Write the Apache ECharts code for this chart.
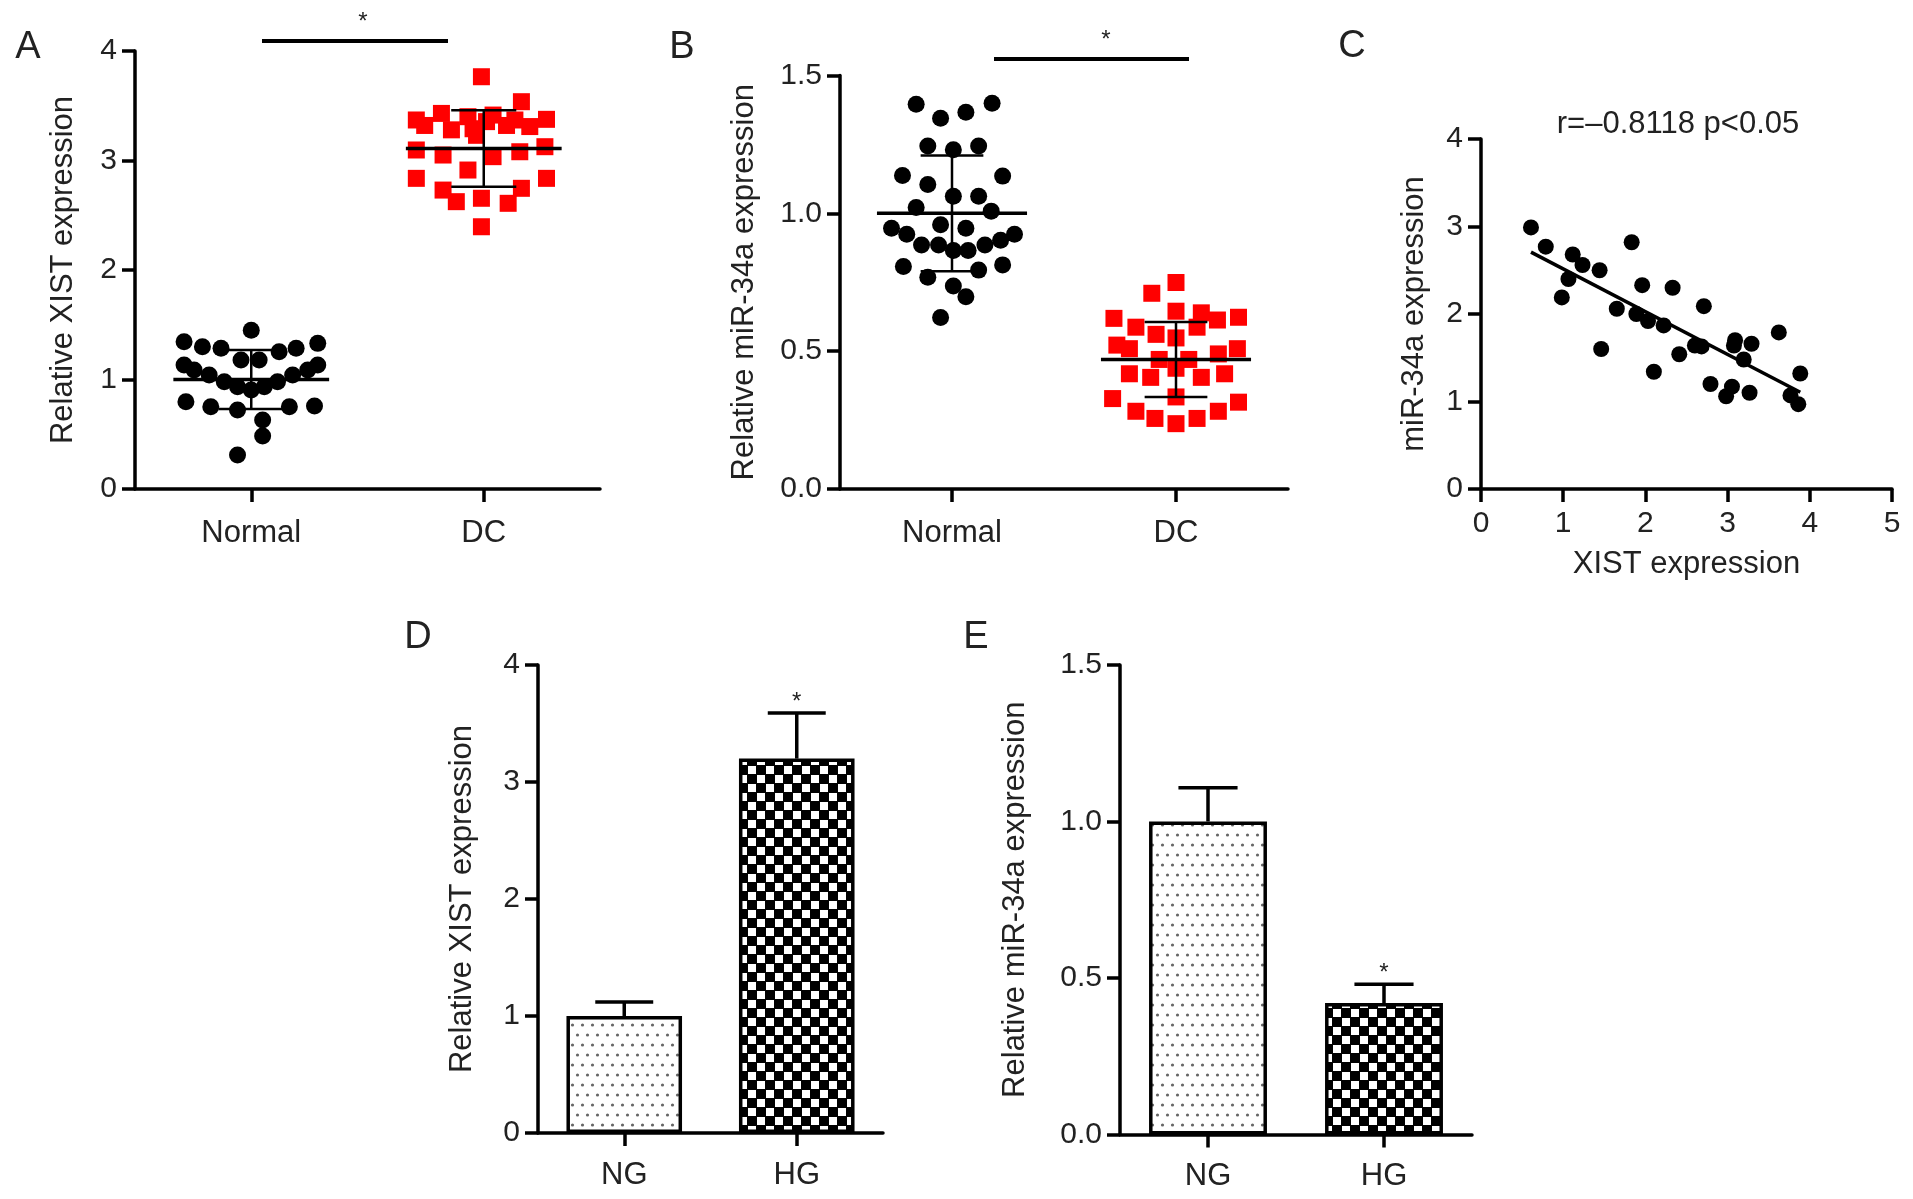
<!DOCTYPE html>
<html lang="en">
  <head>
    <meta charset="UTF-8" />
    <script src="https://cdn.jsdelivr.net/npm/echarts@6.0.0/dist/echarts.min.js"></script>
    <title>XIST / miR-34a</title>
    <style>
      html, body { margin: 0; padding: 0; background: #fff; }
    </style>
  </head>
  <body>
    <div id="container" style="width: 1913px; height: 1199px;"></div>

    <script>
      // ---- data ----
      const groupsAB = ["Normal", "DC"];
      const groupsDE = ["NG", "HG"];

      // panel A: relative XIST expression (dot plot)
      const xistNormal = [1.45, 1.345, 1.3, 1.285, 1.254, 1.285, 1.33, 1.178, 1.178, 1.132, 1.132, 1.087, 1.041, 0.98, 0.934, 0.904, 0.934, 0.98, 1.041, 1.087, 0.797, 0.752, 0.721, 0.752, 0.758, 0.63, 0.484, 0.31];
      const xistNormalJitter = [0, -0.289, -0.21, -0.13, 0.12, 0.193, 0.286, -0.044, 0.034, -0.289, 0.286, -0.246, -0.181, -0.116, -0.059, 0, 0.056, 0.113, 0.178, 0.243, -0.281, -0.174, -0.059, 0.164, 0.272, 0.049, 0.049, -0.059];
      const xistDC = [3.765, 3.537, 3.37, 3.43, 3.4, 3.415, 3.376, 3.32, 3.28, 3.29, 3.32, 3.31, 3.23, 3.096, 3.05, 3.035, 3.08, 3.126, 2.913, 2.837, 2.837, 2.73, 2.746, 2.624, 2.655, 2.609, 2.395, 3.355, 3.37];
      const xistDCJitter = [-0.01, 0.162, -0.29, -0.182, -0.068, 0.04, 0.27, -0.254, -0.139, -0.046, 0.098, 0.198, -0.031, -0.29, -0.175, 0.04, 0.155, 0.263, -0.068, -0.29, 0.27, -0.175, 0.162, -0.118, -0.01, 0.105, -0.01, 0.012, 0.134];
      const xistMean = [1.0, 3.11];
      const xistSd = [0.27, 0.35];

      // panel B: relative miR-34a expression (dot plot)
      const mirNormal = [1.396, 1.399, 1.345, 1.367, 1.244, 1.231, 1.244, 1.137, 1.135, 1.105, 1.062, 1.062, 1.021, 1.008, 0.946, 0.959, 0.946, 0.924, 0.924, 0.885, 0.885, 0.865, 0.865, 0.885, 0.902, 0.807, 0.813, 0.768, 0.794, 0.736, 0.697, 0.622];
      const mirNormalJitter = [-0.16, 0.179, -0.051, 0.062, -0.108, 0.006, 0.119, -0.221, 0.226, -0.108, 0.006, 0.119, -0.16, 0.175, -0.27, -0.051, 0.062, -0.202, 0.279, -0.136, -0.06, 0.006, 0.072, 0.147, 0.217, -0.217, 0.226, -0.108, 0.119, 0.006, 0.062, -0.051];
      const mirDC = [0.749, 0.71, 0.619, 0.623, 0.645, 0.639, 0.613, 0.587, 0.561, 0.548, 0.587, 0.522, 0.509, 0.509, 0.49, 0.47, 0.47, 0.418, 0.405, 0.405, 0.418, 0.438, 0.328, 0.334, 0.315, 0.282, 0.282, 0.256, 0.256, 0.237];
      const mirDCJitter = [0, -0.108, -0.277, 0.279, 0, 0.113, 0.185, -0.179, -0.089, 0, 0.094, -0.264, 0.274, -0.208, 0.189, -0.075, 0.057, -0.208, -0.113, 0.113, 0.217, 0, -0.283, 0, 0.279, -0.179, 0.189, -0.094, 0.094, 0];
      const mirMean = [1.0, 0.47];
      const mirSd = [0.21, 0.136];

      // panel C: correlation
      const corrXist = [0.608, 0.788, 1.116, 1.235, 1.443, 1.064, 0.983, 1.833, 1.961, 2.331, 1.652, 1.89, 2.032, 2.222, 2.711, 1.462, 2.602, 2.683, 2.412, 2.103, 3.091, 3.077, 3.291, 3.196, 3.623, 2.792, 2.982, 3.053, 3.267, 3.765, 3.884, 3.86];
      const corrMir = [2.99, 2.77, 2.68, 2.56, 2.5, 2.4, 2.19, 2.82, 2.33, 2.3, 2.06, 2.0, 1.92, 1.87, 2.09, 1.6, 1.64, 1.63, 1.54, 1.34, 1.7, 1.64, 1.66, 1.48, 1.79, 1.2, 1.06, 1.17, 1.1, 1.07, 1.32, 0.97];
      const fitXist = [0.608, 3.884];
      const fitMir = [2.707, 1.105];
      const corrText = "r=–0.8118 p<0.05";

      // panels D and E: bar charts (mean + error)
      const xistBar = [1.0, 3.2];
      const xistBarErr = [0.12, 0.39];
      const mirBar = [1.0, 0.42];
      const mirBarErr = [0.108, 0.06];
      const sigD = ["", "*"];
      const sigE = ["", "*"];

      // ---- styling ----
      const FONT = "'Liberation Sans', Arial, Helvetica, sans-serif";
      const INK = "#222";
      const AXW = 3.5;

      const myChart = echarts.init(document.getElementById("container"), null, { renderer: "canvas" });

      // fill patterns for the bars
      function dotPattern() {
        const c = document.createElement("canvas");
        c.width = 10; c.height = 20;
        const g = c.getContext("2d");
        g.fillStyle = "#fff"; g.fillRect(0, 0, 10, 20);
        g.fillStyle = "#666";
        g.beginPath(); g.arc(2.5, 5, 1.6, 0, Math.PI * 2); g.fill();
        g.beginPath(); g.arc(7.5, 15, 1.6, 0, Math.PI * 2); g.fill();
        return { image: c, repeat: "repeat" };
      }
      function checkPattern() {
        const c = document.createElement("canvas");
        c.width = 18; c.height = 18;
        const g = c.getContext("2d");
        g.fillStyle = "#000"; g.fillRect(0, 0, 18, 18);
        g.fillStyle = "#fff";
        g.fillRect(1, 1, 8, 8);
        g.fillRect(10, 10, 8, 8);
        return { image: c, repeat: "repeat" };
      }
      const fillNG = dotPattern();
      const fillHG = checkPattern();

      function valueAxis(grid, min, max, interval, digits, extra) {
        return Object.assign({
          type: "value", gridIndex: grid, min: min, max: max, interval: interval,
          splitLine: { show: false },
          axisLine: { show: true, onZero: false, lineStyle: { color: "#000", width: AXW } },
          axisTick: { show: true, length: 13, lineStyle: { color: "#000", width: AXW } },
          axisLabel: {
            color: INK, fontFamily: FONT, fontSize: 30, margin: 18,
            formatter: (v) => v.toFixed(digits),
          },
          nameTextStyle: { color: INK, fontFamily: FONT, fontSize: 31 },
        }, extra || {});
      }
      function catAxis(grid, cats, margin) {
        return {
          type: "category", gridIndex: grid, data: cats, boundaryGap: true,
          axisLine: { show: true, lineStyle: { color: "#000", width: AXW } },
          axisTick: { show: true, alignWithLabel: true, length: 13, lineStyle: { color: "#000", width: AXW } },
          axisLabel: { color: INK, fontFamily: FONT, fontSize: 31, margin: margin },
        };
      }

      function jitterSeries(grid, cat, vals, jit, shape, color, size) {
        return {
          type: "custom", xAxisIndex: grid, yAxisIndex: grid, z: 3,
          data: vals.map((v, i) => [cat, v, jit[i]]),
          encode: { x: 0, y: 1 },
          renderItem: (params, api) => {
            const p = api.coord([api.value(0), api.value(1)]);
            const band = api.size([1, 0])[0];
            const x = p[0] + api.value(2) * band;
            if (shape === "circle") {
              return { type: "circle", shape: { cx: x, cy: p[1], r: size / 2 }, style: { fill: color } };
            }
            return { type: "rect", shape: { x: x - size / 2, y: p[1] - size / 2, width: size, height: size }, style: { fill: color } };
          },
        };
      }

      function meanSdSeries(grid, means, sds) {
        return {
          type: "custom", xAxisIndex: grid, yAxisIndex: grid, z: 5,
          data: means.map((m, i) => [i, m, sds[i]]),
          encode: { x: 0, y: 1 },
          renderItem: (params, api) => {
            const i = api.value(0), m = api.value(1), s = api.value(2);
            const c = api.coord([i, m]);
            const hi = api.coord([i, m + s]);
            const lo = api.coord([i, m - s]);
            const band = api.size([1, 0])[0];
            const wm = 0.335 * band, wc = 0.14 * band;
            const ln = (x1, y1, x2, y2, w) => ({ type: "line", shape: { x1, y1, x2, y2 }, style: { stroke: "#000", lineWidth: w } });
            return {
              type: "group",
              children: [
                ln(c[0] - wm, c[1], c[0] + wm, c[1], 3.5),
                ln(c[0], hi[1], c[0], lo[1], 2.5),
                ln(c[0] - wc, hi[1], c[0] + wc, hi[1], 2.5),
                ln(c[0] - wc, lo[1], c[0] + wc, lo[1], 2.5),
              ],
            };
          },
        };
      }

      function barErrSeries(grid, vals, errs, sig) {
        return {
          type: "custom", xAxisIndex: grid, yAxisIndex: grid, z: 1,
          data: vals.map((v, i) => [i, v, errs[i]]),
          encode: { x: 0, y: 1 },
          renderItem: (params, api) => {
            const i = api.value(0), v = api.value(1), e = api.value(2);
            const b = api.coord([i, v]);
            const t = api.coord([i, v + e]);
            const band = api.size([1, 0])[0];
            const wc = 0.168 * band;
            const kids = [
              { type: "line", shape: { x1: b[0], y1: b[1], x2: t[0], y2: t[1] }, style: { stroke: "#000", lineWidth: 3.5 } },
              { type: "line", shape: { x1: t[0] - wc, y1: t[1], x2: t[0] + wc, y2: t[1] }, style: { stroke: "#000", lineWidth: 3.5 } },
            ];
            if (sig[i]) {
              kids.push({ type: "text", x: t[0], y: t[1] + 1, style: { text: sig[i], fill: INK, font: "24px " + FONT, align: "center", verticalAlign: "bottom" } });
            }
            return { type: "group", children: kids };
          },
        };
      }

      function barSeries(grid, vals) {
        return {
          type: "bar", xAxisIndex: grid, yAxisIndex: grid, barWidth: "67%", z: 2,
          data: vals.map((v, i) => ({ value: v, itemStyle: { color: i === 0 ? fillNG : fillHG } })),
          itemStyle: { borderColor: "#000", borderWidth: 3.5 },
          emphasis: { disabled: true },
        };
      }

      function letter(t, x, y) {
        return { type: "text", x: x, y: y, style: { text: t, fill: INK, font: "38px " + FONT, align: "center", verticalAlign: "middle" } };
      }
      function sigBar(x1, x2, y, sx, sy) {
        return [
          { type: "line", shape: { x1: x1, y1: y, x2: x2, y2: y }, style: { stroke: "#000", lineWidth: 4 } },
          { type: "text", x: sx, y: sy, style: { text: "*", fill: INK, font: "24px " + FONT, align: "center", verticalAlign: "middle" } },
        ];
      }

      const option = {
        animation: false,
        backgroundColor: "#fff",
        textStyle: { fontFamily: FONT },
        grid: [
          { left: 135, top: 51, width: 465, height: 438 },
          { left: 840, top: 75.5, width: 448, height: 413.5 },
          { left: 1481, top: 139, width: 411, height: 350 },
          { left: 538, top: 665, width: 345, height: 468 },
          { left: 1120, top: 665, width: 352, height: 469.5 },
        ],
        xAxis: [
          catAxis(0, groupsAB, 29),
          catAxis(1, groupsAB, 29),
          valueAxis(2, 0, 5, 1, 0, {
            name: "XIST expression", nameLocation: "middle", nameGap: 60,
            axisLabel: { color: INK, fontFamily: FONT, fontSize: 30, margin: 20, formatter: (v) => v.toFixed(0) },
          }),
          catAxis(3, groupsDE, 27),
          catAxis(4, groupsDE, 26),
        ],
        yAxis: [
          valueAxis(0, 0, 4, 1, 0, { name: "Relative XIST expression", nameLocation: "middle", nameGap: 56, nameRotate: 90 }),
          valueAxis(1, 0, 1.5, 0.5, 1, { name: "Relative miR-34a expression", nameLocation: "middle", nameGap: 80, nameRotate: 90 }),
          valueAxis(2, 0, 4, 1, 0, { name: "miR-34a expression", nameLocation: "middle", nameGap: 51, nameRotate: 90 }),
          valueAxis(3, 0, 4, 1, 0, { name: "Relative XIST expression", nameLocation: "middle", nameGap: 60, nameRotate: 90 }),
          valueAxis(4, 0, 1.5, 0.5, 1, { name: "Relative miR-34a expression", nameLocation: "middle", nameGap: 89, nameRotate: 90 }),
        ],
        title: {
          text: corrText, left: 1673, top: 104, textAlign: "center",
          textStyle: { color: INK, fontFamily: FONT, fontSize: 31, fontWeight: "normal" },
        },
        series: [
          // A
          jitterSeries(0, 0, xistNormal, xistNormalJitter, "circle", "#000", 17),
          jitterSeries(0, 1, xistDC, xistDCJitter, "rect", "#ff0000", 17),
          meanSdSeries(0, xistMean, xistSd),
          // B
          jitterSeries(1, 0, mirNormal, mirNormalJitter, "circle", "#000", 17),
          jitterSeries(1, 1, mirDC, mirDCJitter, "rect", "#ff0000", 17),
          meanSdSeries(1, mirMean, mirSd),
          // C
          {
            type: "scatter", xAxisIndex: 2, yAxisIndex: 2, symbol: "circle", symbolSize: 16,
            itemStyle: { color: "#000", opacity: 1 },
            emphasis: { disabled: true },
            data: corrXist.map((x, i) => [x, corrMir[i]]),
          },
          {
            type: "line", xAxisIndex: 2, yAxisIndex: 2, showSymbol: false, z: 1,
            lineStyle: { color: "#000", width: 3.5 },
            data: fitXist.map((x, i) => [x, fitMir[i]]),
          },
          // D
          barErrSeries(3, xistBar, xistBarErr, sigD),
          barSeries(3, xistBar),
          // E
          barErrSeries(4, mirBar, mirBarErr, sigE),
          barSeries(4, mirBar),
        ],
        graphic: [
          letter("A", 28, 48),
          letter("B", 682, 48),
          letter("C", 1352, 47),
          letter("D", 418, 638),
          letter("E", 976, 638),
          ...sigBar(262, 448, 41, 363, 22),
          ...sigBar(994, 1189, 59, 1106, 40),
        ],
      };

      myChart.setOption(option);
    </script>
  </body>
</html>
